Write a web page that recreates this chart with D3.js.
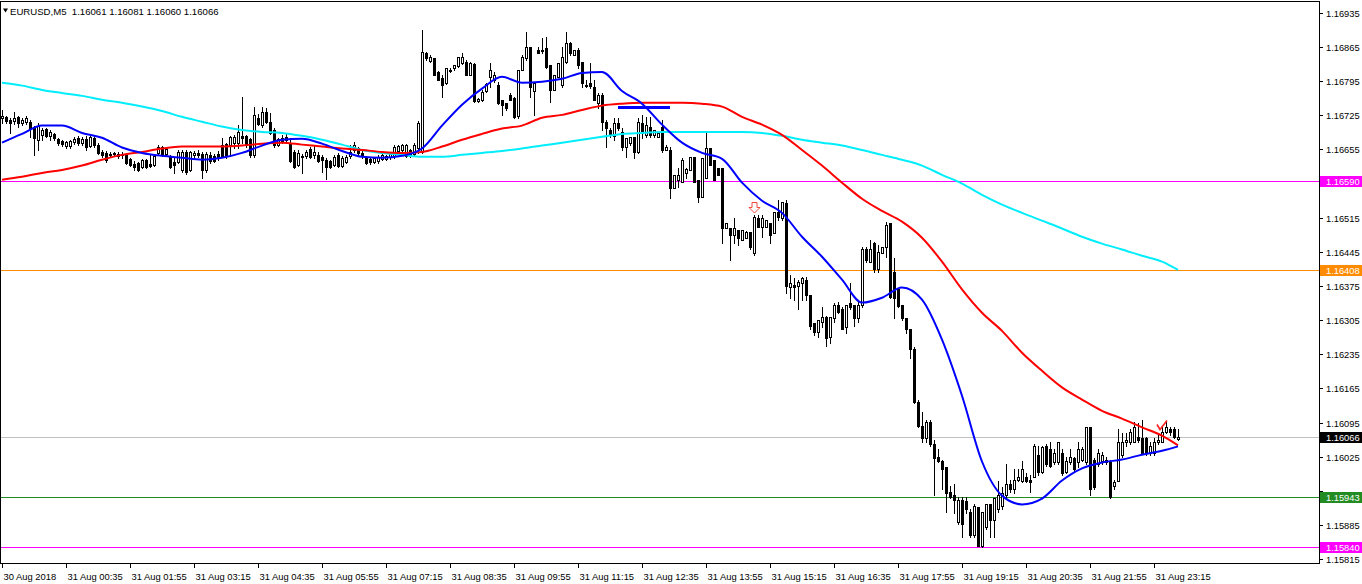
<!DOCTYPE html>
<html><head><meta charset="utf-8">
<script src="https://cdn.jsdelivr.net/npm/d3@7"></script>
<style>
body{margin:0;background:#fff}
svg{display:block}
text{font-family:"Liberation Sans",Arial,sans-serif;white-space:pre}
</style>
</head><body>
<svg id="chart" width="1362" height="584"></svg>
<script>
const headerText = "EURUSD,M5  1.16061 1.16081 1.16060 1.16066";

const open = [
1.16720,1.16722,1.16716,1.16714,1.16722,1.16710,1.16712,1.16712,1.16700,1.16675,
1.16685,1.16698,1.16683,1.16687,1.16677,1.16673,1.16663,1.16663,1.16671,1.16679,
1.16669,1.16677,1.16663,1.16679,1.16665,1.16650,1.16648,1.16644,1.16648,1.16646,
1.16644,1.16644,1.16636,1.16626,1.16628,1.16620,1.16634,1.16626,1.16624,1.16648,
1.16661,1.16646,1.16642,1.16630,1.16630,1.16613,1.16650,1.16613,1.16644,1.16648,
1.16646,1.16613,1.16644,1.16642,1.16646,1.16665,1.16667,1.16665,1.16669,1.16669,
1.16683,1.16683,1.16677,1.16644,1.16720,1.16706,1.16732,1.16712,1.16695,1.16665,
1.16679,1.16681,1.16669,1.16650,1.16624,1.16640,1.16642,1.16657,1.16644,1.16644,
1.16640,1.16634,1.16632,1.16624,1.16644,1.16622,1.16630,1.16642,1.16654,1.16659,
1.16648,1.16638,1.16636,1.16630,1.16632,1.16636,1.16636,1.16640,1.16642,1.16652,
1.16654,1.16642,1.16654,1.16646,1.16659,1.16650,1.16853,1.16837,1.16843,1.16814,
1.16802,1.16792,1.16816,1.16823,1.16827,1.16833,1.16835,1.16808,1.16831,1.16755,
1.16757,1.16775,1.16804,1.16798,1.16788,1.16757,1.16751,1.16767,1.16761,1.16724,
1.16818,1.16843,1.16866,1.16775,1.16860,1.16857,1.16864,1.16829,1.16777,1.16804,
1.16788,1.16835,1.16874,1.16849,1.16860,1.16835,1.16788,1.16792,1.16784,1.16751,
1.16767,1.16712,1.16695,1.16683,1.16710,1.16691,1.16661,1.16669,1.16681,1.16650,
1.16710,1.16685,1.16702,1.16685,1.16681,1.16702,1.16654,1.16654,1.16577,1.16593,
1.16589,1.16607,1.16613,1.16640,1.16593,1.16558,1.16597,1.16659,1.16634,1.16618,
1.16618,1.16495,1.16495,1.16480,1.16490,1.16470,1.16474,1.16486,1.16443,1.16515,
1.16497,1.16497,1.16505,1.16484,1.16527,1.16515,1.16546,1.16372,1.16378,1.16374,
1.16382,1.16388,1.16357,1.16300,1.16281,1.16302,1.16312,1.16271,1.16310,1.16337,
1.16327,1.16290,1.16341,1.16337,1.16310,1.16337,1.16450,1.16425,1.16464,1.16409,
1.16443,1.16454,1.16505,1.16404,1.16368,1.16337,1.16310,1.16286,1.16245,1.16138,
1.16087,1.16064,1.16097,1.16050,1.16025,1.16015,1.16003,1.15953,1.15947,1.15890,
1.15937,1.15933,1.15912,1.15865,1.15921,1.15841,1.15880,1.15927,1.15896,1.15917,
1.15923,1.15947,1.15968,1.15958,1.15978,1.15974,1.15984,1.15978,1.15984,1.16029,
1.15994,1.16046,1.16040,1.16013,1.16013,1.16033,1.15994,1.16013,1.16023,1.16013,
1.16019,1.16013,1.16085,1.16019,1.16009,1.16015,1.16013,1.16013,1.15964,1.15974,
1.16029,1.16054,1.16054,1.16056,1.16066,1.16064,1.16064,1.16033,1.16033,1.16054,
1.16056,1.16076,1.16081,1.16081,1.16061];

const high = [
1.16736,1.16724,1.16720,1.16732,1.16724,1.16720,1.16724,1.16716,1.16704,1.16710,
1.16700,1.16700,1.16695,1.16689,1.16679,1.16675,1.16673,1.16675,1.16681,1.16683,
1.16681,1.16683,1.16683,1.16683,1.16669,1.16654,1.16652,1.16650,1.16650,1.16650,
1.16650,1.16646,1.16638,1.16632,1.16630,1.16636,1.16636,1.16646,1.16644,1.16665,
1.16663,1.16661,1.16644,1.16638,1.16654,1.16654,1.16654,1.16652,1.16652,1.16654,
1.16650,1.16650,1.16650,1.16646,1.16652,1.16679,1.16669,1.16683,1.16685,1.16706,
1.16763,1.16685,1.16679,1.16743,1.16728,1.16743,1.16741,1.16730,1.16700,1.16679,
1.16685,1.16687,1.16679,1.16654,1.16654,1.16646,1.16654,1.16661,1.16665,1.16650,
1.16644,1.16638,1.16634,1.16644,1.16648,1.16642,1.16644,1.16665,1.16671,1.16661,
1.16652,1.16642,1.16640,1.16640,1.16644,1.16648,1.16644,1.16650,1.16665,1.16665,
1.16667,1.16667,1.16657,1.16669,1.16714,1.16900,1.16855,1.16849,1.16843,1.16816,
1.16808,1.16823,1.16823,1.16829,1.16845,1.16853,1.16839,1.16835,1.16833,1.16761,
1.16777,1.16792,1.16833,1.16814,1.16794,1.16757,1.16751,1.16771,1.16763,1.16818,
1.16849,1.16896,1.16866,1.16792,1.16866,1.16884,1.16886,1.16829,1.16808,1.16833,
1.16866,1.16896,1.16876,1.16860,1.16864,1.16835,1.16798,1.16833,1.16798,1.16771,
1.16771,1.16716,1.16700,1.16720,1.16720,1.16700,1.16679,1.16681,1.16681,1.16720,
1.16726,1.16722,1.16722,1.16695,1.16691,1.16716,1.16665,1.16661,1.16603,1.16618,
1.16638,1.16618,1.16640,1.16640,1.16593,1.16638,1.16689,1.16659,1.16634,1.16618,
1.16618,1.16505,1.16495,1.16515,1.16490,1.16490,1.16488,1.16486,1.16521,1.16521,
1.16521,1.16511,1.16505,1.16527,1.16552,1.16548,1.16552,1.16398,1.16392,1.16388,
1.16394,1.16394,1.16357,1.16300,1.16306,1.16331,1.16314,1.16312,1.16341,1.16343,
1.16331,1.16337,1.16382,1.16337,1.16347,1.16454,1.16454,1.16470,1.16466,1.16460,
1.16454,1.16507,1.16505,1.16433,1.16368,1.16337,1.16310,1.16286,1.16249,1.16142,
1.16117,1.16101,1.16101,1.16060,1.16040,1.16019,1.16003,1.15964,1.15968,1.15943,
1.15943,1.15943,1.15917,1.15927,1.15921,1.15912,1.15927,1.15927,1.15941,1.15974,
1.15962,1.16009,1.15978,1.15999,1.15999,1.16015,1.15992,1.15988,1.16050,1.16046,
1.16046,1.16050,1.16054,1.16040,1.16054,1.16040,1.16025,1.16040,1.16025,1.16056,
1.16044,1.16085,1.16085,1.16023,1.16040,1.16035,1.16025,1.16019,1.15978,1.16081,
1.16074,1.16074,1.16081,1.16097,1.16095,1.16101,1.16066,1.16056,1.16064,1.16074,
1.16085,1.16097,1.16085,1.16085,1.16081];

const low = [
1.16710,1.16710,1.16689,1.16708,1.16702,1.16706,1.16708,1.16681,1.16644,1.16654,
1.16675,1.16681,1.16675,1.16675,1.16665,1.16663,1.16659,1.16659,1.16667,1.16665,
1.16665,1.16654,1.16661,1.16661,1.16646,1.16640,1.16630,1.16640,1.16642,1.16638,
1.16638,1.16626,1.16622,1.16613,1.16611,1.16618,1.16618,1.16620,1.16622,1.16644,
1.16642,1.16642,1.16618,1.16607,1.16628,1.16609,1.16605,1.16611,1.16638,1.16640,
1.16597,1.16609,1.16628,1.16630,1.16634,1.16640,1.16638,1.16642,1.16659,1.16659,
1.16669,1.16661,1.16640,1.16640,1.16706,1.16702,1.16710,1.16687,1.16661,1.16663,
1.16669,1.16669,1.16630,1.16618,1.16622,1.16607,1.16638,1.16638,1.16638,1.16630,
1.16609,1.16595,1.16618,1.16622,1.16620,1.16620,1.16628,1.16638,1.16650,1.16644,
1.16638,1.16626,1.16626,1.16628,1.16628,1.16634,1.16634,1.16636,1.16638,1.16646,
1.16650,1.16640,1.16640,1.16642,1.16648,1.16648,1.16839,1.16835,1.16808,1.16798,
1.16763,1.16790,1.16814,1.16818,1.16825,1.16831,1.16808,1.16808,1.16753,1.16753,
1.16755,1.16773,1.16784,1.16794,1.16749,1.16726,1.16736,1.16757,1.16720,1.16720,
1.16818,1.16839,1.16763,1.16726,1.16853,1.16853,1.16823,1.16753,1.16777,1.16804,
1.16784,1.16833,1.16849,1.16849,1.16823,1.16784,1.16784,1.16782,1.16757,1.16741,
1.16695,1.16661,1.16681,1.16675,1.16695,1.16654,1.16640,1.16665,1.16638,1.16648,
1.16679,1.16681,1.16681,1.16681,1.16681,1.16650,1.16654,1.16556,1.16577,1.16579,
1.16589,1.16597,1.16613,1.16589,1.16548,1.16558,1.16597,1.16624,1.16593,1.16603,
1.16464,1.16495,1.16429,1.16464,1.16460,1.16470,1.16474,1.16450,1.16439,1.16497,
1.16476,1.16497,1.16464,1.16484,1.16511,1.16511,1.16361,1.16351,1.16347,1.16327,
1.16347,1.16347,1.16286,1.16275,1.16271,1.16290,1.16251,1.16259,1.16302,1.16320,
1.16286,1.16279,1.16327,1.16292,1.16302,1.16331,1.16425,1.16425,1.16404,1.16404,
1.16443,1.16435,1.16351,1.16310,1.16331,1.16306,1.16279,1.16228,1.16136,1.16085,
1.16056,1.16056,1.16046,1.15947,1.16013,1.15958,1.15912,1.15941,1.15910,1.15886,
1.15861,1.15910,1.15861,1.15861,1.15841,1.15839,1.15876,1.15861,1.15861,1.15912,
1.15917,1.15943,1.15953,1.15951,1.15974,1.15972,1.15972,1.15953,1.15984,1.15988,
1.15992,1.16005,1.16003,1.16009,1.16009,1.15988,1.15992,1.16009,1.15994,1.16003,
1.16015,1.16009,1.15947,1.15958,1.16005,1.16009,1.16009,1.15941,1.15958,1.15974,
1.16025,1.16046,1.16050,1.16054,1.16056,1.16033,1.16029,1.16029,1.16029,1.16050,
1.16054,1.16074,1.16070,1.16064,1.16060];

const close = [
1.16724,1.16714,1.16710,1.16720,1.16710,1.16716,1.16720,1.16700,1.16679,1.16704,
1.16695,1.16683,1.16691,1.16679,1.16669,1.16667,1.16671,1.16673,1.16677,1.16669,
1.16677,1.16661,1.16681,1.16665,1.16648,1.16644,1.16634,1.16646,1.16646,1.16642,
1.16646,1.16628,1.16624,1.16620,1.16613,1.16634,1.16620,1.16622,1.16642,1.16661,
1.16646,1.16657,1.16620,1.16624,1.16650,1.16650,1.16609,1.16650,1.16648,1.16644,
1.16613,1.16646,1.16632,1.16632,1.16640,1.16642,1.16642,1.16681,1.16681,1.16691,
1.16679,1.16665,1.16644,1.16726,1.16708,1.16732,1.16712,1.16689,1.16665,1.16677,
1.16673,1.16675,1.16632,1.16620,1.16648,1.16642,1.16650,1.16640,1.16650,1.16632,
1.16634,1.16620,1.16620,1.16640,1.16622,1.16638,1.16640,1.16650,1.16665,1.16648,
1.16642,1.16628,1.16630,1.16638,1.16640,1.16644,1.16642,1.16646,1.16661,1.16663,
1.16665,1.16665,1.16642,1.16665,1.16710,1.16855,1.16843,1.16845,1.16808,1.16798,
1.16788,1.16823,1.16818,1.16829,1.16845,1.16845,1.16808,1.16833,1.16755,1.16759,
1.16773,1.16790,1.16818,1.16808,1.16751,1.16747,1.16741,1.16757,1.16722,1.16818,
1.16845,1.16866,1.16784,1.16792,1.16853,1.16860,1.16825,1.16777,1.16808,1.16833,
1.16845,1.16874,1.16853,1.16860,1.16829,1.16792,1.16786,1.16786,1.16757,1.16767,
1.16712,1.16700,1.16685,1.16710,1.16700,1.16661,1.16679,1.16681,1.16650,1.16712,
1.16689,1.16706,1.16685,1.16695,1.16689,1.16654,1.16661,1.16577,1.16603,1.16603,
1.16634,1.16616,1.16640,1.16589,1.16558,1.16638,1.16659,1.16624,1.16593,1.16603,
1.16495,1.16505,1.16480,1.16495,1.16474,1.16490,1.16486,1.16454,1.16517,1.16497,
1.16515,1.16511,1.16480,1.16527,1.16517,1.16548,1.16374,1.16382,1.16372,1.16384,
1.16392,1.16357,1.16292,1.16281,1.16306,1.16312,1.16269,1.16312,1.16337,1.16322,
1.16286,1.16337,1.16331,1.16310,1.16337,1.16450,1.16429,1.16450,1.16409,1.16445,
1.16454,1.16501,1.16353,1.16351,1.16333,1.16310,1.16286,1.16245,1.16138,1.16087,
1.16064,1.16097,1.16050,1.16023,1.16015,1.15999,1.15951,1.15943,1.15937,1.15937,
1.15886,1.15917,1.15865,1.15923,1.15841,1.15912,1.15927,1.15896,1.15941,1.15947,
1.15951,1.15968,1.15958,1.15978,1.15984,1.15999,1.15974,1.15972,1.16046,1.15994,
1.16044,1.16009,1.16005,1.16033,1.16054,1.15992,1.16015,1.16025,1.15999,1.16040,
1.16040,1.16085,1.15958,1.15962,1.16033,1.16029,1.16019,1.15943,1.15972,1.16056,
1.16056,1.16060,1.16076,1.16085,1.16060,1.16033,1.16033,1.16046,1.16054,1.16060,
1.16076,1.16085,1.16076,1.16066,1.16066];

// moving averages, read at these bar indices
const maBars = [0,5,10,15,20,25,30,35,40,45,50,55,60,65,70,75,80,85,90,95,
100,105,110,115,120,125,130,135,140,145,150,155,160,165,170,175,180,185,190,195,
200,205,210,215,220,225,230,235,240,245,250,255,260,265,270,275,280,285,290,294];

const blueMA = [
1.16669,1.16687,1.16704,1.16704,1.16689,1.16679,1.16659,1.16648,1.16642,1.16638,
1.16634,1.16638,1.16648,1.16663,1.16675,1.16677,1.16667,1.16652,1.16640,1.16638,
1.16642,1.16657,1.16704,1.16747,1.16780,1.16804,1.16792,1.16794,1.16800,1.16812,
1.16814,1.16775,1.16749,1.16706,1.16669,1.16648,1.16636,1.16587,1.16550,1.16525,
1.16476,1.16435,1.16388,1.16341,1.16351,1.16372,1.16347,1.16265,1.16150,1.16015,
1.15945,1.15927,1.15939,1.15976,1.16001,1.16013,1.16019,1.16029,1.16037,1.16046];

const redMA = [
1.16593,1.16599,1.16607,1.16613,1.16622,1.16634,1.16644,1.16650,1.16657,1.16661,
1.16661,1.16661,1.16663,1.16667,1.16669,1.16665,1.16661,1.16657,1.16654,1.16650,
1.16648,1.16650,1.16661,1.16675,1.16687,1.16698,1.16704,1.16720,1.16726,1.16736,
1.16745,1.16749,1.16751,1.16751,1.16751,1.16749,1.16743,1.16722,1.16706,1.16685,
1.16654,1.16622,1.16587,1.16554,1.16529,1.16507,1.16474,1.16425,1.16368,1.16320,
1.16283,1.16238,1.16201,1.16167,1.16142,1.16119,1.16103,1.16085,1.16068,1.16048];

const cyanMA = [
1.16792,1.16786,1.16777,1.16771,1.16765,1.16757,1.16751,1.16743,1.16734,1.16722,
1.16712,1.16702,1.16695,1.16691,1.16689,1.16683,1.16675,1.16665,1.16654,1.16648,
1.16644,1.16640,1.16640,1.16644,1.16648,1.16652,1.16657,1.16663,1.16669,1.16675,
1.16681,1.16687,1.16689,1.16691,1.16691,1.16691,1.16691,1.16691,1.16689,1.16683,
1.16675,1.16669,1.16663,1.16654,1.16644,1.16634,1.16622,1.16603,1.16585,1.16562,
1.16542,1.16525,1.16509,1.16493,1.16476,1.16462,1.16450,1.16437,1.16425,1.16408];

const timeTickBars = [0,16,32,48,64,80,96,112,128,144,160,176,192,208,224,240,256,272,288];
const timeTickLabels = ["30 Aug 2018","31 Aug 00:35","31 Aug 01:55","31 Aug 03:15","31 Aug 04:35",
"31 Aug 05:55","31 Aug 07:15","31 Aug 08:35","31 Aug 09:55","31 Aug 11:15","31 Aug 12:35",
"31 Aug 13:55","31 Aug 15:15","31 Aug 16:35","31 Aug 17:55","31 Aug 19:15","31 Aug 20:35",
"31 Aug 21:55","31 Aug 23:15"];

const priceTicks = [1.16935,1.16865,1.16795,1.16725,1.16655,1.16585,1.16515,1.16445,1.16375,
1.16305,1.16235,1.16165,1.16095,1.16025,1.15955,1.15885,1.15815];

const levelPrices = [1.16590,1.16408,1.16066,1.15943,1.15840];
const levelNames = ["magenta","orange","bid","green","magenta"];

const trendBars = [154,167];
const trendPrice = 1.16741;
const arrowBar = 188, arrowPrice = 1.16548;
const checkBar = 290, checkPrice = 1.16097;

// ---------- drawing ----------
const W = 1362, H = 584, axisX = 1319, bottomY = 563;
const svg = d3.select("#chart");
svg.append("rect").attr("width",W).attr("height",H).attr("fill","#fff");

const x = d3.scaleLinear().domain([0,294]).range([2,1178]);
const y = d3.scaleLinear().domain([1.15815,1.16935]).range([559,13]);

const levelStyle = {
  magenta:{line:"#ff00ff",box:"#ff00ff",text:"#fff"},
  orange:{line:"#ff8c00",box:"#ff8c00",text:"#fff"},
  bid:{line:"#c0c0c0",box:"#000",text:"#fff"},
  green:{line:"#228b22",box:"#228b22",text:"#fff"}
};

const defs = svg.append("defs");
defs.append("clipPath").attr("id","plot").append("rect")
  .attr("x",0).attr("y",1).attr("width",axisX).attr("height",bottomY-1);

const plot = svg.append("g").attr("clip-path","url(#plot)");

// level lines
plot.selectAll("line.level").data(levelPrices).join("line")
  .attr("class","level")
  .attr("x1",0).attr("x2",axisX)
  .attr("y1",d=>Math.round(y(d))+0.5).attr("y2",d=>Math.round(y(d))+0.5)
  .attr("stroke",(d,i)=>levelStyle[levelNames[i]].line).attr("stroke-width",1);

// candles
const bars = d3.range(open.length);
const cg = plot.append("g").attr("shape-rendering","crispEdges");
bars.forEach(i=>{
  const cx = Math.round(x(i));
  const yH = Math.round(y(high[i])), yL = Math.round(y(low[i]));
  const yO = Math.round(y(open[i])), yC = Math.round(y(close[i]));
  cg.append("line").attr("x1",cx+0.5).attr("x2",cx+0.5)
    .attr("y1",yH).attr("y2",yL+1).attr("stroke","#000");
  const top = Math.min(yO,yC), bot = Math.max(yO,yC);
  const bull = close[i] >= open[i];
  cg.append("rect").attr("x",cx-0.5).attr("y",top+0.5)
    .attr("width",2).attr("height",bot-top)
    .attr("fill",bull?"#fff":"#000").attr("stroke","#000");
});

// moving averages
const maLine = vals => d3.line()
  .x((d,i)=>x(maBars[i])).y(d=>y(d)).curve(d3.curveMonotoneX)(vals);
plot.append("path").attr("d",maLine(cyanMA)).attr("fill","none").attr("stroke","#00eefc").attr("stroke-width",2);
plot.append("path").attr("d",maLine(redMA)).attr("fill","none").attr("stroke","#ff0000").attr("stroke-width",2);
plot.append("path").attr("d",maLine(blueMA)).attr("fill","none").attr("stroke","#0000ff").attr("stroke-width",2);

// trend line object
plot.append("line")
  .attr("x1",x(trendBars[0])).attr("x2",x(trendBars[1]))
  .attr("y1",y(trendPrice)).attr("y2",y(trendPrice))
  .attr("stroke","#0000ff").attr("stroke-width",3);

// sell arrow
{
  const ax = Math.round(x(arrowBar))+0.5, ay = Math.round(y(arrowPrice))+0.5;
  plot.append("path")
    .attr("d",`M${ax-2.5},${ay}L${ax+2.5},${ay}L${ax+2.5},${ay+5}L${ax+5.5},${ay+5}L${ax},${ay+10.5}L${ax-5.5},${ay+5}L${ax-2.5},${ay+5}Z`)
    .attr("fill","#fff").attr("stroke","#f04a3c").attr("stroke-width",1);
}
// check mark
{
  const kx = x(checkBar), ky = y(checkPrice);
  plot.append("path")
    .attr("d",`M${kx-5},${ky+3}L${kx-2},${ky+8}L${kx+5},${ky-1}`)
    .attr("fill","none").attr("stroke","#ff2020").attr("stroke-width",1.6);
}

// frame
svg.append("line").attr("x1",0).attr("x2",axisX+0.5).attr("y1",bottomY+0.5).attr("y2",bottomY+0.5).attr("stroke","#000");
svg.append("line").attr("x1",axisX+0.5).attr("x2",axisX+0.5).attr("y1",1).attr("y2",bottomY+1).attr("stroke","#000");
svg.append("line").attr("x1",0).attr("x2",axisX+0.5).attr("y1",1.5).attr("y2",1.5).attr("stroke","#000");
svg.append("line").attr("x1",0.5).attr("x2",0.5).attr("y1",1).attr("y2",bottomY+1).attr("stroke","#000");

// price axis: ticks everywhere, labels only where no level box covers them
const levelYs = levelPrices.map(p=>Math.round(y(p)));
const pa = svg.append("g");
priceTicks.forEach(p=>{
  const yy = Math.round(y(p))+0.5;
  pa.append("line").attr("x1",axisX).attr("x2",axisX+4).attr("y1",yy).attr("y2",yy).attr("stroke","#000");
  const covered = levelYs.some(ly=>Math.abs(ly-yy)<9);
  if(!covered){
    pa.append("text").attr("x",axisX+7).attr("y",yy).attr("dy","0.35em")
      .attr("font-size","9.3px").attr("fill","#000").text(p.toFixed(5));
  }
});
// level labels
levelPrices.forEach((p,i)=>{
  const st = levelStyle[levelNames[i]];
  const yy = Math.round(y(p));
  pa.append("rect").attr("x",axisX+1).attr("y",yy-5).attr("width",W-axisX-1).attr("height",11).attr("fill",st.box);
  pa.append("text").attr("x",axisX+7).attr("y",yy+0.5).attr("dy","0.35em")
    .attr("font-size","9.3px").attr("fill",st.text).text(p.toFixed(5));
});

// time axis
const ta = svg.append("g");
timeTickBars.forEach((b,i)=>{
  const xx = Math.round(x(b))+0.5;
  ta.append("line").attr("x1",xx).attr("x2",xx).attr("y1",bottomY).attr("y2",bottomY+5).attr("stroke","#000");
  ta.append("text").attr("x",xx+1).attr("y",580).attr("font-size","9.4px").attr("fill","#000").text(timeTickLabels[i]);
});

// header
svg.append("rect").attr("x",1).attr("y",2).attr("width",222).attr("height",17).attr("fill","#fff");
svg.append("path").attr("d","M3,8.5L8,8.5L5.5,12.5Z").attr("fill","#000");
svg.append("text").attr("x",10).attr("y",14.5).attr("font-size","9.6px").attr("fill","#000").text(headerText);
</script>
</body></html>
